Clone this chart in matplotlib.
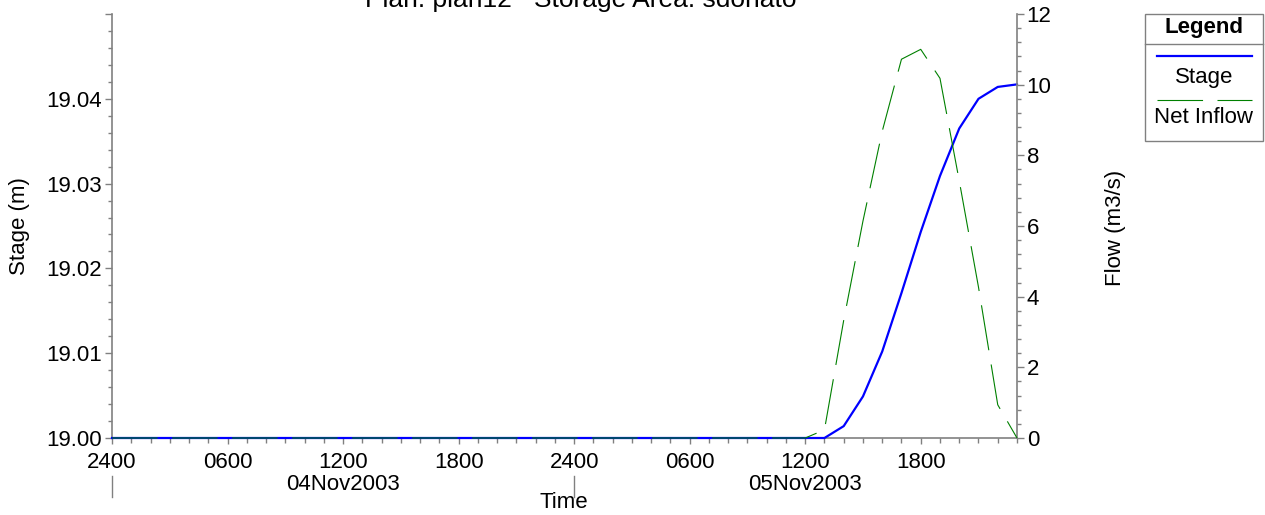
import matplotlib
matplotlib.use("Agg")
import matplotlib.pyplot as plt
from matplotlib.lines import Line2D
from matplotlib.patches import Rectangle
from matplotlib.ticker import MultipleLocator, FuncFormatter
import pandas as pd

plt.rcParams["font.family"] = ["Liberation Sans", "DejaVu Sans"]

# hourly output, 04Nov2003 2400 .. 05Nov2003 2300
times = pd.date_range("2003-11-04 00:00", "2003-11-05 23:00", freq="h")

stage = [19.0] * 38 + [
    19.0014, 19.0049, 19.0102, 19.0171, 19.0243,
    19.0309, 19.0365, 19.0400, 19.0414, 19.0417,
]

net_inflow = [0.0] * 37 + [
    0.23, 3.33, 6.14, 8.68, 10.72, 11.0,
    10.18, 7.28, 4.27, 0.94, 0.0,
]

tick_times = pd.date_range("2003-11-04 00:00", "2003-11-05 18:00", freq="6h")
tick_labels = ["2400", "0600", "1200", "1800", "2400", "0600", "1200", "1800"]
day_labels = ["04Nov2003", "05Nov2003"]
day_mids = pd.to_datetime(["2003-11-04 12:00", "2003-11-05 12:00"])
day_starts = pd.to_datetime(["2003-11-04 00:00", "2003-11-05 00:00"])

W, H = 1265, 515
GREY = "#808080"
FS = 16


def fx(x):
    return x / W


def fy(y):
    return 1 - y / H


fig = plt.figure(figsize=(W / 100, H / 100), dpi=100)
ax = fig.add_axes([fx(112), fy(438), (1017 - 112) / W, (438 - 14) / H])
ax2 = ax.twinx()

ax.plot(times, stage, color="#0000ff", lw=1.6, clip_on=False, zorder=3)
ax2.plot(times, net_inflow, color="#008000", lw=0.8,
         linestyle=(0, (41, 13)), clip_on=False, zorder=3)

ax.set_xlim(times[0], times[-1])
ax.set_ylim(19.0, 19.05)
ax2.set_ylim(0, 12)

ax.yaxis.set_major_locator(MultipleLocator(0.01))
ax.yaxis.set_minor_locator(MultipleLocator(0.002))
# top tick (19.05) is drawn without a label in the original
ax.yaxis.set_major_formatter(
    FuncFormatter(lambda v, p: "" if v > 19.045 else f"{v:.2f}"))
ax2.yaxis.set_major_locator(MultipleLocator(2))
ax2.yaxis.set_minor_locator(MultipleLocator(0.4))

ax.set_xticks(tick_times)
ax.set_xticklabels(tick_labels)
ax.set_xticks(times, minor=True)

for a in (ax, ax2):
    for s in a.spines.values():
        s.set_visible(False)
        s.set_color(GREY)
        s.set_linewidth(1.2)
ax.spines["left"].set_visible(True)
ax.spines["bottom"].set_visible(True)
ax2.spines["right"].set_visible(True)

ax.tick_params(axis="y", which="major", length=5, width=1, color=GREY,
               labelsize=FS, pad=2)
ax.tick_params(axis="y", which="minor", length=3, width=1, color=GREY)
ax2.tick_params(axis="y", which="major", length=5, width=1, color=GREY,
                labelsize=FS, pad=2)
ax2.tick_params(axis="y", which="minor", length=3, width=1, color=GREY)
ax.tick_params(axis="x", which="major", length=4.3, width=1, color=GREY,
               labelsize=FS, pad=5.5)
ax.tick_params(axis="x", which="minor", length=3.6, width=1, color=GREY)

# day labels and day separators under the time axis
for t, lab in zip(day_mids, day_labels):
    ax.text(t, (438 - 484) / 424, lab, transform=ax.get_xaxis_transform(),
            ha="center", va="center", fontsize=FS, clip_on=False)
for t in day_starts:
    ax.plot([t, t], [(438 - 476) / 424, (438 - 497) / 424],
            transform=ax.get_xaxis_transform(), color=GREY, lw=1,
            clip_on=False)

fig.text(fx(564), fy(503), "Time", ha="center", va="center", fontsize=FS)
fig.text(fx(20), fy(226), "Stage (m)", ha="center", va="center",
         rotation=90, fontsize=FS)
fig.text(fx(1116), fy(228), "Flow (m3/s)", ha="center", va="center",
         rotation=90, fontsize=FS)
# title sits partly above the top edge, as in the original
fig.text(fx(581), fy(6.5), "Plan: plan12   Storage Area: sdonato",
         ha="center", va="baseline", fontsize=19)

# legend box
fig.add_artist(Rectangle((fx(1145), fy(141)), (1263 - 1145) / W, 127 / H,
                         transform=fig.transFigure, fill=False,
                         edgecolor=GREY, lw=1))
fig.add_artist(Line2D([fx(1145), fx(1263)], [fy(44), fy(44)], color=GREY, lw=1))
fig.text(fx(1204), fy(28), "Legend", ha="center", va="center",
         fontsize=FS, fontweight="bold")
fig.add_artist(Line2D([fx(1157), fx(1252)], [fy(56), fy(56)],
                      color="#0000ff", lw=1.6))
fig.text(fx(1204), fy(77), "Stage", ha="center", va="center", fontsize=FS)
fig.add_artist(Line2D([fx(1157), fx(1252)], [fy(100), fy(100)],
                      color="#008000", lw=0.8, linestyle=(0, (41, 13))))
fig.text(fx(1204), fy(118), "Net Inflow", ha="center", va="center",
         fontsize=FS)

fig.savefig("out.png", dpi=100)
